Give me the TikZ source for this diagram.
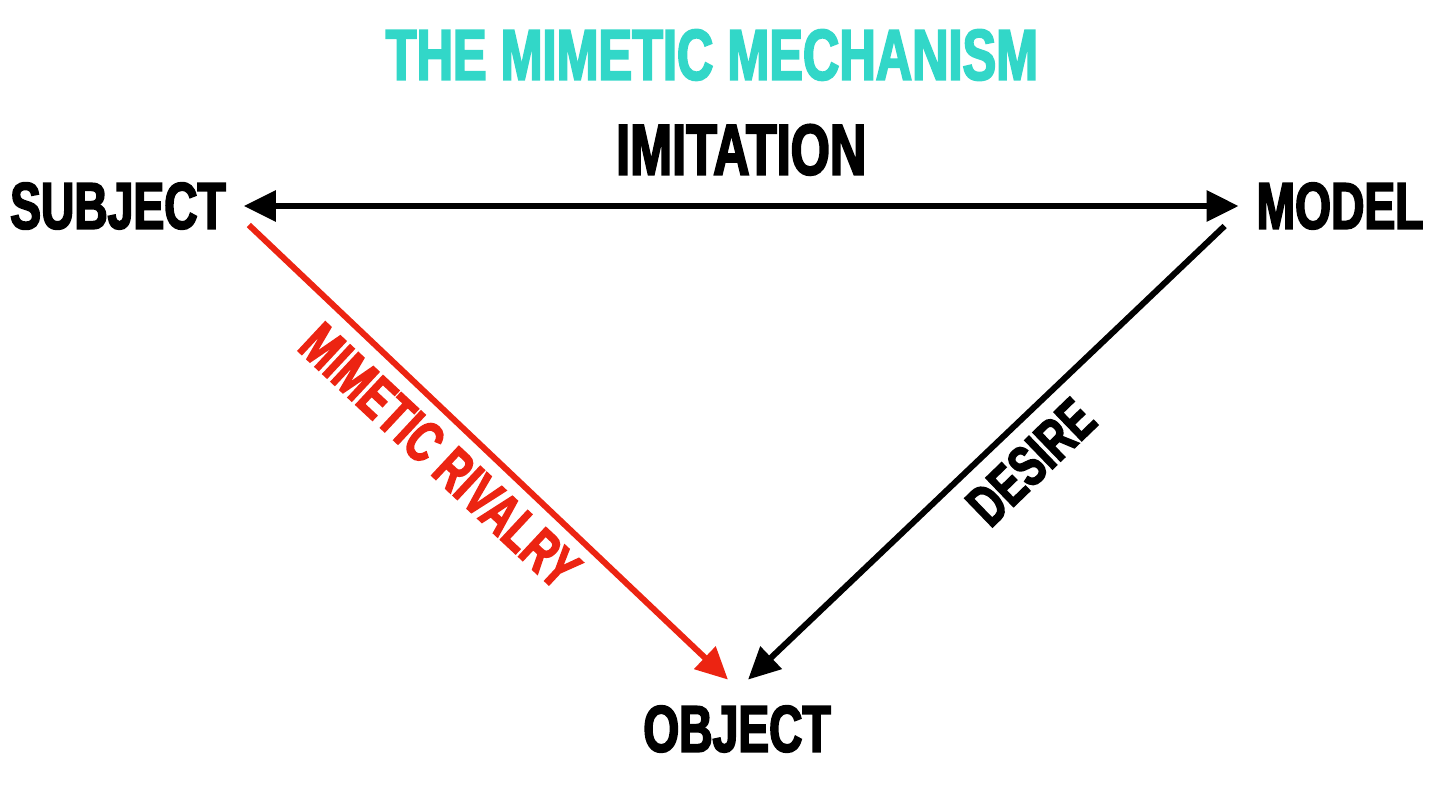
\documentclass[tikz,border=0pt]{standalone}
\usepackage{fontspec}
\usepackage{tikz}
\usetikzlibrary{arrows.meta}
\newfontfamily\heavy{Liberation Sans}[UprightFont=* Bold, FakeStretch=0.70, FakeBold=2.6]
\definecolor{mimcyan}{RGB}{50,215,200}
\definecolor{mimred}{RGB}{236,36,18}

\begin{document}
\begin{tikzpicture}[x=0.5pt, y=0.5pt, line width=3pt, >={Triangle[length=16pt, width=15pt]},
  corner/.style={font=\heavy\fontsize{33}{33}\selectfont, inner sep=7.5pt},
  big/.style={font=\heavy\fontsize{36}{36}\selectfont},
  tag/.style={font=\heavy\fontsize{29}{29}\selectfont, inner sep=0pt}]
\useasboundingbox (0,0) rectangle (1456,-799);
% title and the three corners
\node[big, text=mimcyan] (title) at (712,-55) {THE MIMETIC MECHANISM};
\node[corner] (subj) at (118,-206) {SUBJECT};
\node[corner] (model) at (1340,-206) {MODEL};
\node[corner] (obj) at (737,-729) {OBJECT};
% sides of the triangle
\draw[<->] (subj) -- node[big, above=10.5pt] (imit) {IMITATION} (model);
\draw[->, mimred] ([shift={(5,-19)}]subj.east) -- ([shift={(-9,8)}]obj.north);
\draw[->] ([shift={(-14,-20)}]model.west) -- ([shift={(11,8)}]obj.north);
\node[tag, text=mimred, rotate=-43] (rivalry) at (440,-456) {MIMETIC RIVALRY};
\node[tag, rotate=44] (desire) at (1031,-462) {DESIRE};
\end{tikzpicture}
\end{document}
